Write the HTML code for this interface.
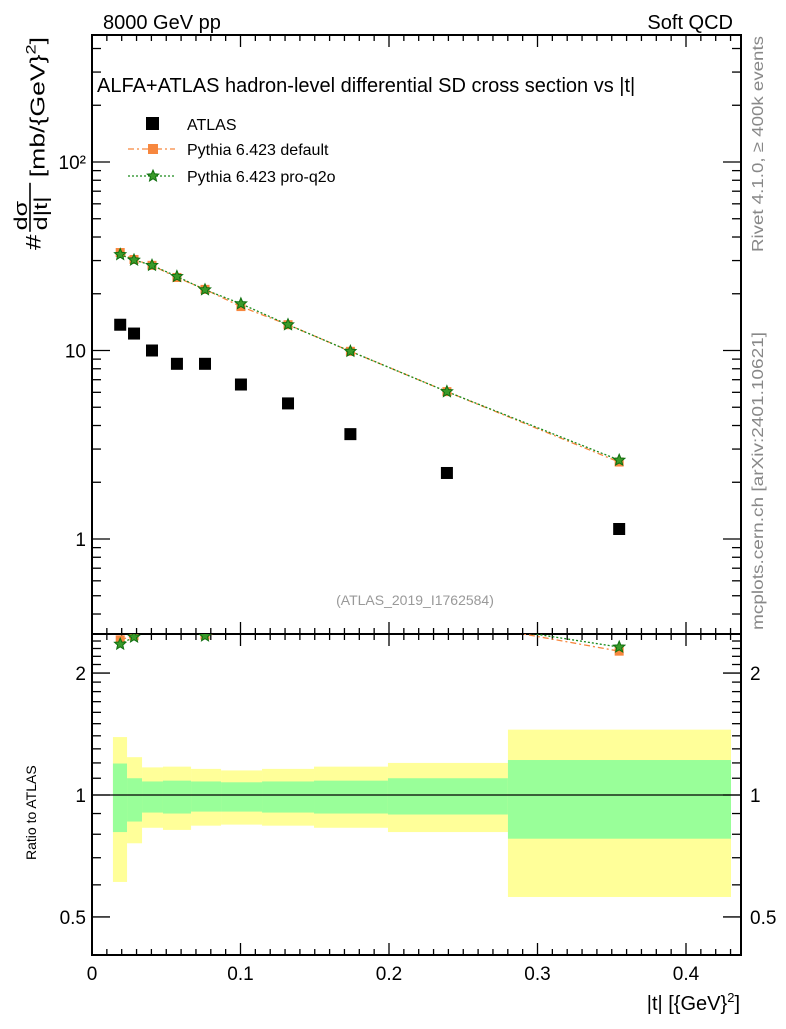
<!DOCTYPE html>
<html><head><meta charset="utf-8"><style>
body{margin:0;background:#fff}
svg{font-family:"Liberation Sans",sans-serif}
</style></head><body>
<svg id="c" width="786" height="1024" xmlns="http://www.w3.org/2000/svg">
<defs>
<clipPath id="mainclip"><rect x="92" y="35" width="649" height="599"/></clipPath>
<clipPath id="ratioclip"><rect x="92" y="634" width="649" height="321"/></clipPath>
</defs>
<g id="bands" clip-path="url(#ratioclip)"></g>
<g id="ticks"></g>
<rect x="92" y="35" width="649" height="599" fill="none" stroke="#000" stroke-width="2"/>
<rect x="92" y="634" width="649" height="321" fill="none" stroke="#000" stroke-width="2"/>
<line x1="92" x2="741" y1="795" y2="795" stroke="#000" stroke-width="1.3"/>
<g id="series"></g>
<text x="103" y="29" font-size="20">8000 GeV pp</text>
<text x="733" y="29" font-size="20" text-anchor="end">Soft QCD</text>
<text x="97" y="92" font-size="20">ALFA+ATLAS hadron-level differential SD cross section vs |t|</text>
<text x="415" y="605" font-size="14" fill="#999" text-anchor="middle">(ATLAS_2019_I1762584)</text>
<text transform="translate(763,252) rotate(-90)" font-size="16" fill="#888" textLength="216" lengthAdjust="spacingAndGlyphs">Rivet 4.1.0, ≥ 400k events</text>
<text transform="translate(763,630) rotate(-90)" font-size="16" fill="#888" textLength="298" lengthAdjust="spacingAndGlyphs">mcplots.cern.ch [arXiv:2401.10621]</text>
<g>
<rect x="146" y="117" width="13" height="13" fill="#000"/>
<text x="187" y="130" font-size="16">ATLAS</text>
<line x1="128" x2="175" y1="149" y2="149" stroke="#f7873e" stroke-width="1.3" stroke-dasharray="6,3,2,3"/>
<rect x="148" y="144" width="10" height="10" fill="#f7873e"/>
<text x="187" y="155" font-size="16">Pythia 6.423 default</text>
<line x1="128" x2="175" y1="176" y2="176" stroke="#1a8a1a" stroke-width="1.3" stroke-dasharray="2,2"/>
<g id="legstar"></g>
<text x="187" y="182" font-size="16">Pythia 6.423 pro-q2o</text>
</g>
<g transform="translate(30,250) rotate(-90) scale(1.4,1.05)">
<text x="0" y="10" font-size="20">#</text>
<text x="14" y="-3" font-size="18">dσ</text>
<line x1="13" x2="48" y1="0" y2="0" stroke="#000" stroke-width="1.5"/>
<text x="14" y="16" font-size="18">d|t|</text>
<text x="52" y="14" font-size="19">[mb/{GeV}<tspan dy="-9" font-size="13">2</tspan><tspan dy="9">]</tspan></text>
</g>
<text transform="translate(36,860) rotate(-90)" font-size="14">Ratio to ATLAS</text>
<text x="740" y="1010" font-size="20" text-anchor="end">|t| [{GeV}<tspan dy="-8" font-size="13">2</tspan><tspan dy="8">]</tspan></text>
</svg>
<script>
const xCenters=[0.019,0.0283,0.0404,0.0572,0.0761,0.1003,0.132,0.174,0.239,0.355];
const atlasVals=[13.7,12.3,10.0,8.5,8.5,6.6,5.24,3.6,2.24,1.13];
const defaultVals=[33.1,30.4,28.3,24.4,21.1,17.1,13.7,9.9,6.05,2.56];
const proq2oVals=[32.3,30.2,28.3,24.7,21.0,17.7,13.7,9.9,6.05,2.62];
const binEdges=[0.0141,0.0236,0.0337,0.0478,0.0667,0.0869,0.1145,0.1495,0.1993,0.2801,0.4303];
const totUp=[1.39,1.24,1.17,1.175,1.16,1.15,1.16,1.175,1.20,1.45];
const totDn=[0.61,0.76,0.83,0.82,0.84,0.845,0.84,0.83,0.81,0.56];
const statUp=[1.196,1.10,1.08,1.085,1.08,1.075,1.08,1.085,1.10,1.22];
const statDn=[0.81,0.86,0.905,0.90,0.91,0.91,0.905,0.90,0.895,0.78];
const xTicks=[0,0.1,0.2,0.3,0.4];
const mainYTicks=[1,10,100];
const mainYLabels=['1','10','10²'];
const ratioTicks=[0.5,1,2];

const X=v=>92+v*1485;
const Y=v=>539-188.5*Math.log10(v);
const R=v=>795-405*Math.log10(v);
const NS='http://www.w3.org/2000/svg';
function mk(t,a,p){const e=document.createElementNS(NS,t);for(const k in a)e.setAttribute(k,a[k]);p.appendChild(e);return e;}
const svg=document.getElementById('c');
const bands=document.getElementById('bands'),ticks=document.getElementById('ticks'),ser=document.getElementById('series');

for(let i=0;i<totUp.length;i++){
  const x0=X(binEdges[i]),x1=X(binEdges[i+1]);
  const y=mk('rect',{x:x0,y:R(totUp[i]),width:x1-x0,height:R(totDn[i])-R(totUp[i]),fill:'#ffff99'},bands);
  
  
  const g=mk('rect',{x:x0,y:R(statUp[i]),width:x1-x0,height:R(statDn[i])-R(statUp[i]),fill:'#99ff99'},bands);
  
  
}
for(let k=0;k<=43;k++){
  const v=k/100,x=X(v),maj=k%10===0,l=maj?12:6;
  for(const yb of [634,955]){mk('line',{x1:x,x2:x,y1:yb,y2:yb-l,stroke:'#000','stroke-width':1.3},ticks);}
  for(const yt of [35,634]){mk('line',{x1:x,x2:x,y1:yt,y2:yt+l,stroke:'#000','stroke-width':1.3},ticks);}
}
xTicks.forEach(v=>{const t=mk('text',{x:X(v),y:980,'font-size':19,'text-anchor':'middle'},svg);t.textContent=String(v);

});
for(let d=-1;d<=2;d++)for(let m=1;m<10;m++){
  const v=m*Math.pow(10,d),y=Y(v);if(y<35||y>634)continue;const l=m===1?18:9;
  mk('line',{x1:92,x2:92+l,y1:y,y2:y,stroke:'#000','stroke-width':1.3},ticks);
  mk('line',{x1:741,x2:741-l,y1:y,y2:y,stroke:'#000','stroke-width':1.3},ticks);
}
mainYTicks.forEach((v,i)=>{const t=mk('text',{x:86,y:Y(v)+7,'font-size':19,'text-anchor':'end'},svg);t.textContent=mainYLabels[i];

});
for(let v=0.4;v<=2.6;v+=0.1){
  const y=R(v);if(y<634||y>955)continue;const maj=ratioTicks.some(r=>Math.abs(r-v)<1e-6),l=maj?18:9;
  mk('line',{x1:92,x2:92+l,y1:y,y2:y,stroke:'#000','stroke-width':1.3},ticks);
  mk('line',{x1:741,x2:741-l,y1:y,y2:y,stroke:'#000','stroke-width':1.3},ticks);
}
ratioTicks.forEach(v=>{for(const [x,a] of [[86,'end'],[750,'start']]){const t=mk('text',{x:x,y:R(v)+7,'font-size':19,'text-anchor':a},svg);t.textContent=String(v);

}});

function star(cx,cy,r,p,name){let d='';for(let i=0;i<10;i++){const a=-Math.PI/2+i*Math.PI/5,rr=i%2?r*0.45:r;d+=(i?'L':'M')+(cx+rr*Math.cos(a)).toFixed(1)+','+(cy+rr*Math.sin(a)).toFixed(1);}
  const s=mk('path',{d:d+'Z',fill:'#3a9a2a',stroke:'#0f6f0f','stroke-width':1},p);
  
  }
star(153,176,6,document.getElementById('legstar'),'legend-proq2o-marker');

function drawSeries(vals,yf,clip,kind){
  const g=mk('g',{'clip-path':clip},ser);
  const pts=xCenters.map((x,i)=>X(x)+','+yf(vals[i],i)).join(' ');
  const ln=mk('polyline',{points:pts,fill:'none',stroke:kind==='def'?'#f7873e':'#1a8a1a','stroke-width':1.3,'stroke-dasharray':kind==='def'?'6,3,2,3':'2,2'},g);
  
  
  xCenters.forEach((x,i)=>{const cx=X(x),cy=yf(vals[i],i);
    if(kind==='def'){const r=mk('rect',{x:cx-4.5,y:cy-4.5,width:9,height:9,fill:'#f7873e'},g);
      
      }
    else star(cx,cy,6,g,'pythia-proq2o-point');});
}
const mg=mk('g',{'clip-path':'url(#mainclip)'},ser);
xCenters.forEach((x,i)=>{const r=mk('rect',{x:X(x)-6,y:Y(atlasVals[i])-6,width:12,height:12,fill:'#000'},mg);

});
drawSeries(defaultVals,(v)=>Y(v),'url(#mainclip)','def');
drawSeries(proq2oVals,(v)=>Y(v),'url(#mainclip)','pro');
drawSeries(defaultVals,(v,i)=>R(v/atlasVals[i]),'url(#ratioclip)','def');
drawSeries(proq2oVals,(v,i)=>R(v/atlasVals[i]),'url(#ratioclip)','pro');
</script>
</body></html>
